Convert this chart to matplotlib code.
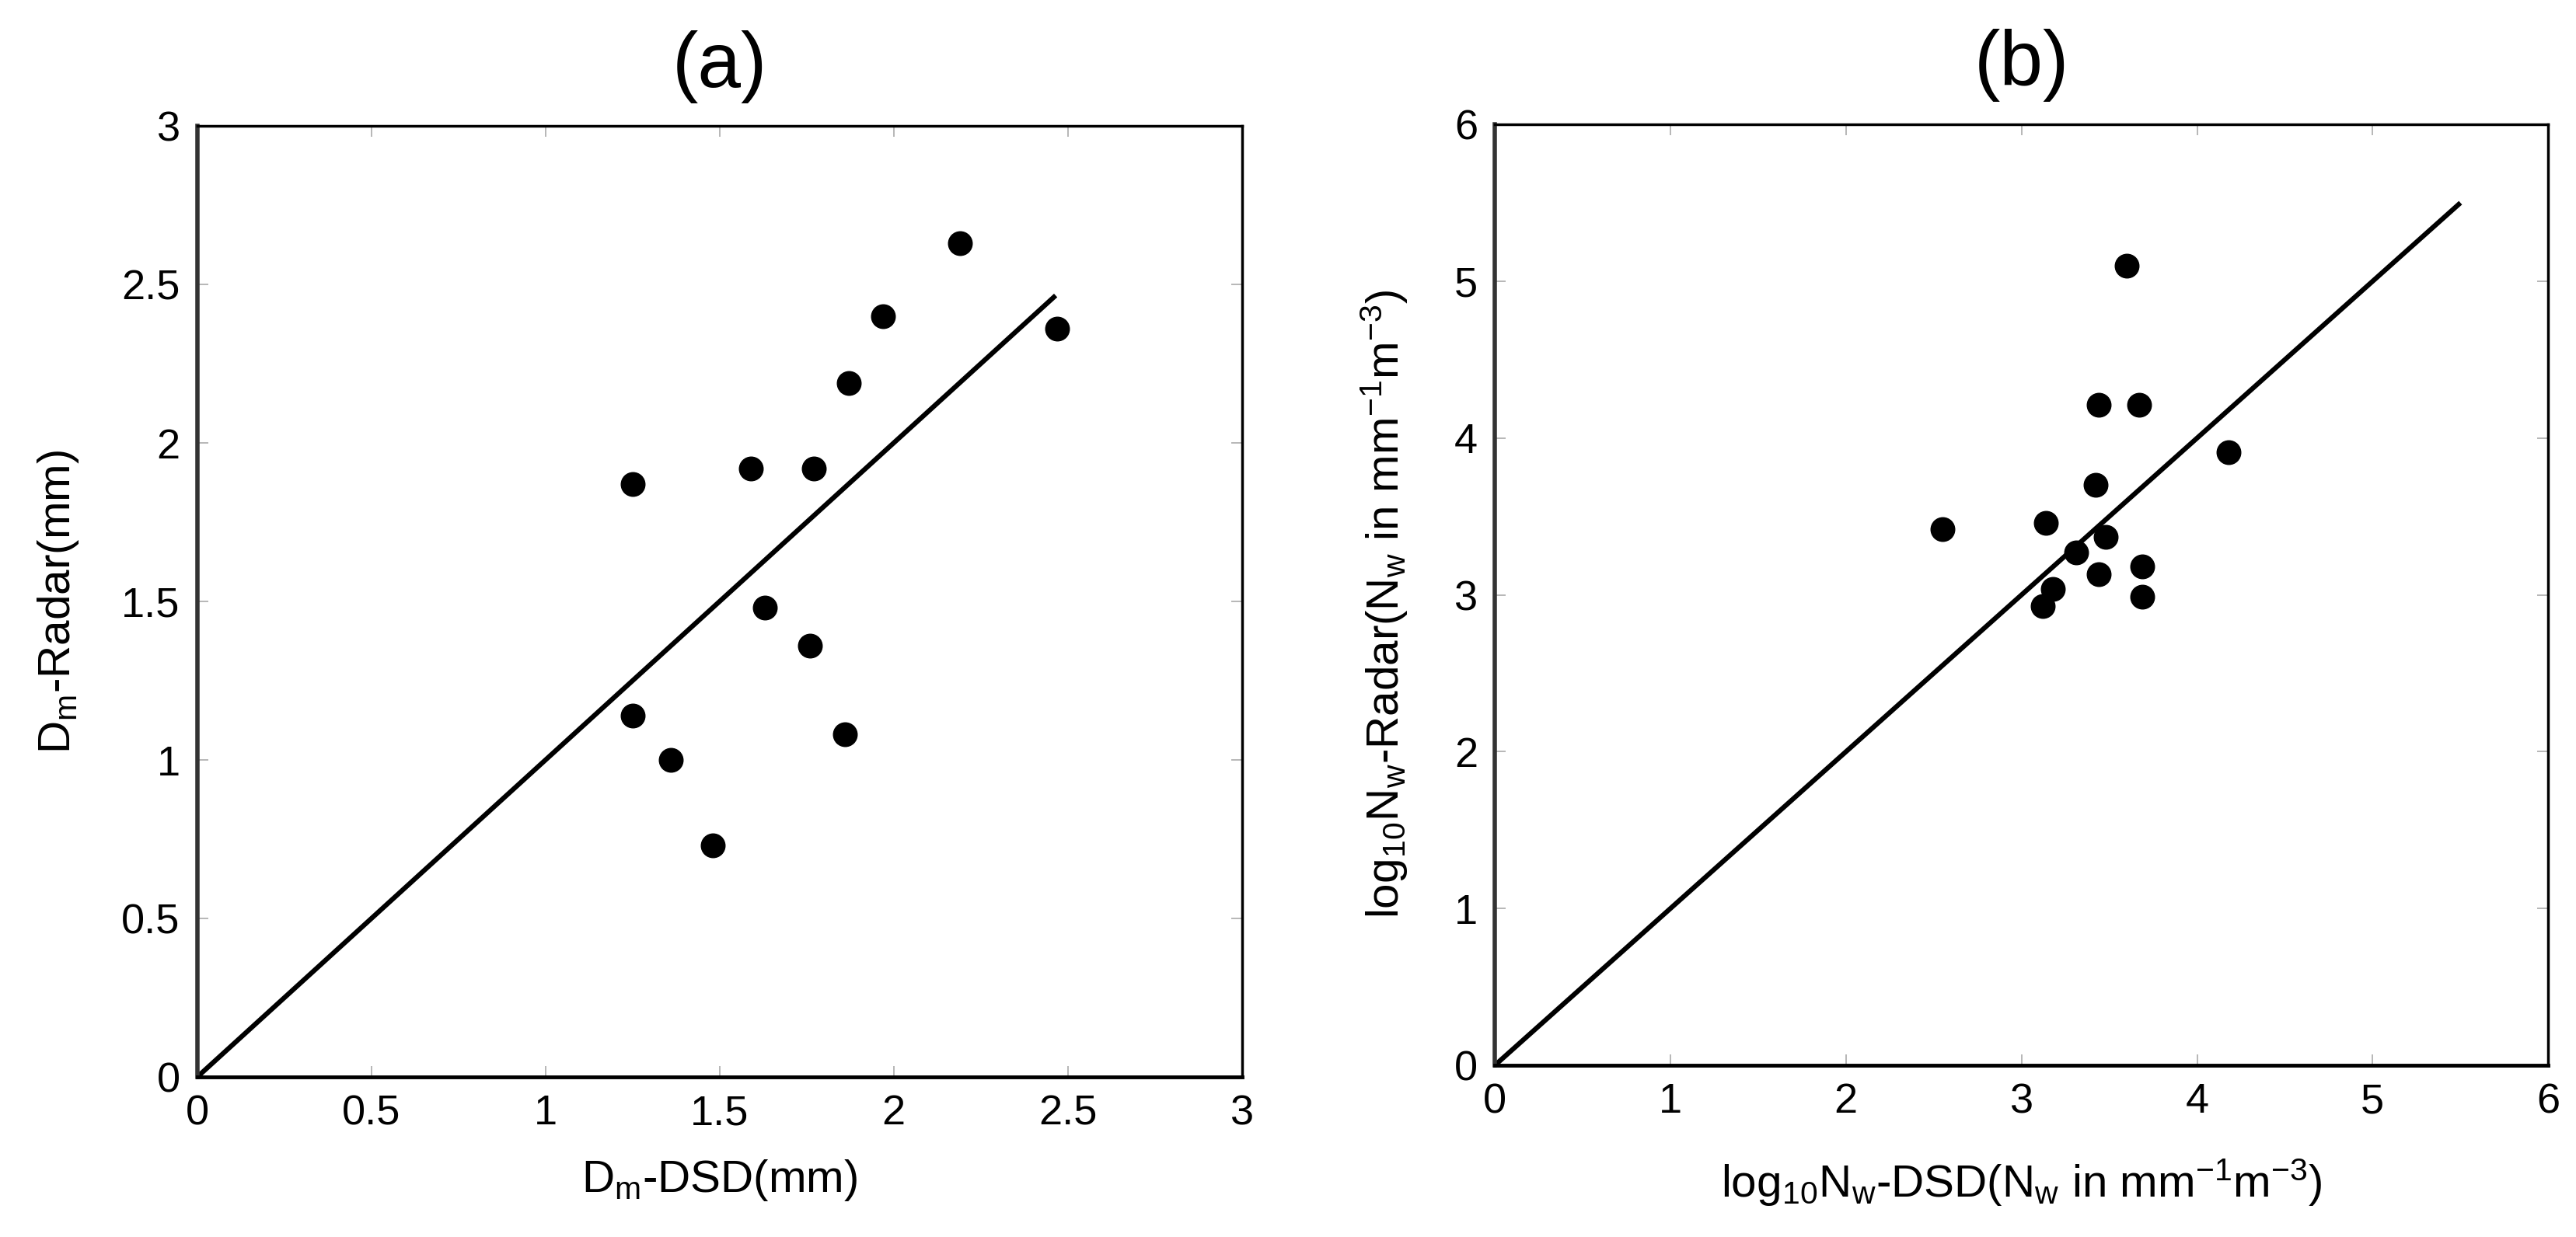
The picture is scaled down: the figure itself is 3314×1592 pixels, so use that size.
import matplotlib
matplotlib.use("Agg")
import matplotlib.pyplot as plt

plt.rcParams['font.family'] = ['Liberation Sans', 'DejaVu Sans']
plt.rcParams['mathtext.fontset'] = 'custom'
plt.rcParams['mathtext.rm'] = 'Liberation Sans'
plt.rcParams['mathtext.it'] = 'Liberation Sans'
plt.rcParams['mathtext.default'] = 'rm'

# panel (a): Dm
dm_dsd = [2.19, 1.97, 2.47, 1.87, 1.25, 1.59, 1.77, 1.63, 1.76, 1.25, 1.36, 1.86, 1.48]
dm_radar = [2.63, 2.40, 2.36, 2.19, 1.87, 1.92, 1.92, 1.48, 1.36, 1.14, 1.00, 1.08, 0.73]
dm_line = [0, 2.46]

# panel (b): log10 Nw
nw_dsd = [3.60, 3.44, 3.67, 4.18, 3.42, 3.14, 3.48, 3.31, 3.44, 3.69, 3.69, 3.18, 3.12, 2.55]
nw_radar = [5.10, 4.21, 4.21, 3.91, 3.70, 3.46, 3.37, 3.27, 3.13, 3.18, 2.99, 3.04, 2.93, 3.42]
nw_line = [0, 5.49]

ticks_a = [0, 0.5, 1, 1.5, 2, 2.5, 3]
ticklabels_a = ['0', '0.5', '1', '1.5', '2', '2.5', '3']
ticks_b = [0, 1, 2, 3, 4, 5, 6]
ticklabels_b = ['0', '1', '2', '3', '4', '5', '6']

fig = plt.figure(figsize=(33.14, 15.92), dpi=100)
ax1 = fig.add_axes([0.0766, 0.1294, 0.4055, 0.7688])
ax2 = fig.add_axes([0.5803, 0.1388, 0.4089, 0.7606])


def style(ax, ticks, labels, lim):
    ax.set_xlim(lim)
    ax.set_ylim(lim)
    ax.set_xticks(ticks)
    ax.set_xticklabels(labels)
    ax.set_yticks(ticks)
    ax.set_yticklabels(labels)
    ax.tick_params(direction='in', length=10, width=1.2, color='#aaaaaa',
                   labelsize=39, pad=16, top=True, right=True)
    for s in ['top', 'right']:
        ax.spines[s].set_linewidth(2.5)
    ax.spines['bottom'].set_linewidth(3.5)
    ax.spines['left'].set_linewidth(4)
    ax.spines['left'].set_color('#333333')


ax1.plot(dm_line, dm_line, color='black', lw=4.5, zorder=2)
ax1.plot(dm_dsd, dm_radar, 'o', color='black', markersize=22, zorder=3)
style(ax1, ticks_a, ticklabels_a, (0, 3))
ax1.set_title('(a)', fontsize=72, pad=36)
ax1.set_xlabel(r'D$_{\mathrm{m}}$-DSD(mm)', fontsize=42)
ax1.set_ylabel(r'D$_{\mathrm{m}}$-Radar(mm)', fontsize=42, va='center')
ax1.xaxis.set_label_coords(0.5, -0.085)
ax1.yaxis.set_label_coords(-0.133, 0.5)

ax2.plot(nw_line, nw_line, color='black', lw=4.5, zorder=2)
ax2.plot(nw_dsd, nw_radar, 'o', color='black', markersize=22, zorder=3)
style(ax2, ticks_b, ticklabels_b, (0, 6))
ax2.set_title('(b)', fontsize=72, pad=36)
ax2.set_xlabel(r'log$_{10}$N$_{\mathrm{w}}$-DSD(N$_{\mathrm{w}}$ in mm$^{-1}$m$^{-3}$)', fontsize=42)
ax2.set_ylabel(r'log$_{10}$N$_{\mathrm{w}}$-Radar(N$_{\mathrm{w}}$ in mm$^{-1}$m$^{-3}$)', fontsize=42, va='center')
ax2.xaxis.set_label_coords(0.5, -0.0975)
ax2.yaxis.set_label_coords(-0.1044, 0.49)

fig.savefig('out.png', dpi=100, facecolor='white')
